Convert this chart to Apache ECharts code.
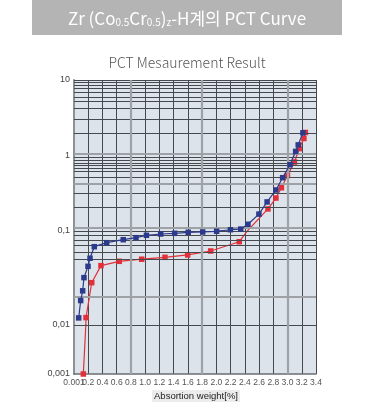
<!DOCTYPE html>
<html><head><meta charset="utf-8">
<script src="https://cdn.jsdelivr.net/npm/echarts@6/dist/echarts.min.js"></script>
<style>html,body{margin:0;padding:0;background:#fff}#c{width:374px;height:412px}</style>
</head><body><div id="c"></div>
<script>
// ---- data ----
const blueX = [0.066,0.094,0.122,0.140,0.197,0.225,0.285,0.459,0.692,0.871,1.018,1.218,1.414,1.605,1.808,2.004,2.198,2.343,2.444,2.598,2.713,2.837,2.931,3.034,3.114,3.150,3.216];
const blueY = [0.0119,0.0182,0.0231,0.0319,0.0421,0.0513,0.0681,0.0751,0.0808,0.0849,0.0900,0.0929,0.0945,0.0969,0.0976,0.0993,0.104,0.106,0.123,0.168,0.244,0.352,0.514,0.766,1.15,1.40,2.02];
const redX = [0.131,0.169,0.249,0.379,0.636,0.951,1.278,1.597,1.920,2.322,2.725,2.837,2.914,2.999,3.097,3.164,3.230,3.251];
const redY = [0.001,0.0120,0.0282,0.0428,0.0476,0.0501,0.0525,0.0556,0.0613,0.0769,0.197,0.275,0.377,0.550,0.832,1.25,1.70,2.04];
const xTickLabels = ['0.001','0.2','0.4','0.6','0.8','1.0','1.2','1.4','1.6','1.8','2.0','2.2','2.4','2.6','2.8','3.0','3.2','3.4'];
const yTickLabels = {'1':'10','0':'1','-1':'0,1','-2':'0,01','-3':'0,001'};
const decades = [[1,10],[0.1,1],[0.01,0.1],[0.001,0.01]];
// printed graph-paper rulings (values on the pressure scale)
const paperDark = [10,9.3,8.6,7.8,7.0,6.0,5.2,4.2,3.0,2.0,0.96,0.885,0.814,0.751,0.685,0.617,0.52,0.318,0.215,0.1,0.0945,0.0885,0.0822,0.0727,0.0628,0.052,0.0163,0.0155,0.0144,0.0133,0.012,0.00754,0.00494,0.00272];
const paperGray = [1.06,0.432,0.11,0.0177];
const paperGrayX = [0.8,1.8,3.0];

// ---- layout ----
const tops = [80,156,231,325];
const heights = [76,75,94,49];
const LEFT = 74, WIDTH = 242;
const DARK = '#45484d', GRAY = '#9ea2a7';
const BLUE = '#2c3a8c', RED = '#e2303a';
const narrow = '"Liberation Sans Narrow","Liberation Sans",Arial,sans-serif';
const xLabelStyle = {fontSize: 8.5, color: '#555', margin: 4, fontFamily: narrow, hideOverlap: false, interval: 0};

const chart = echarts.init(document.getElementById('c'), null, {renderer:'canvas'});
const grid = [], xAxis = [], yAxis = [], series = [];
decades.forEach((d, i) => {
  const lo = d[0], hi = d[1];
  grid.push({left: LEFT, top: tops[i], width: WIDTH, height: heights[i], show: true, backgroundColor: '#dce3ea', borderWidth: 0});
  xAxis.push({
    gridIndex: i, type: 'value', min: 0, max: 3.4, interval: 0.2,
    axisLine: {show: i === 3, lineStyle: {color: '#6a6e73', width: 1.5}},
    axisTick: {show: false},
    axisLabel: Object.assign({show: i === 3, showMinLabel: false, showMaxLabel: true,
      formatter: v => (Math.round(v / 0.2) === 0 ? '' : xTickLabels[Math.round(v / 0.2)])}, xLabelStyle),
    splitLine: {show: true, lineStyle: {color: DARK, width: 1}}
  });
  yAxis.push({
    gridIndex: i, type: 'log', logBase: 10, min: lo, max: hi, splitNumber: 1,
    axisLine: {show: true, lineStyle: {color: '#8d9196', width: 2}},
    axisTick: {show: false},
    splitLine: {show: false},
    axisLabel: {showMinLabel: i === 3, showMaxLabel: true, fontSize: 9, color: '#444', margin: 4, fontFamily: narrow,
      formatter: v => yTickLabels[String(Math.round(Math.log10(v)))]}
  });
  const inRange = v => v <= hi * 1.0001 && v >= lo * 0.9999 && !(i > 0 && Math.abs(v - hi) / hi < 1e-4);
  const ml = [];
  paperDark.filter(inRange).forEach(v => ml.push({yAxis: v, lineStyle: {color: DARK, width: 1, type: 'solid'}}));
  paperGray.filter(inRange).forEach(v => ml.push({yAxis: v, lineStyle: {color: GRAY, width: 2.2, type: 'solid'}}));
  paperGrayX.forEach(v => ml.push({xAxis: v, lineStyle: {color: GRAY, width: 2.2, type: 'solid'}}));
  series.push({
    type: 'line', xAxisIndex: i, yAxisIndex: i, data: [], silent: true, z: 1,
    markLine: {silent: true, symbol: 'none', label: {show: false}, animation: false, data: ml}
  });
  series.push({
    type: 'line', xAxisIndex: i, yAxisIndex: i, clip: true, z: 4, animation: false,
    data: redX.map((x, k) => [x, redY[k]]),
    symbol: 'rect', symbolSize: 5.5, showAllSymbol: true,
    lineStyle: {color: RED, width: 1.2}, itemStyle: {color: RED}
  });
  series.push({
    type: 'line', xAxisIndex: i, yAxisIndex: i, clip: true, z: 5, animation: false,
    data: blueX.map((x, k) => [x, blueY[k]]),
    symbol: 'rect', symbolSize: 5.5, showAllSymbol: true,
    lineStyle: {color: BLUE, width: 1.2}, itemStyle: {color: BLUE}
  });
});
// separate axis on the bottom grid that carries only the first ("0.001") tick label
xAxis.push({
  gridIndex: 3, type: 'value', min: 0, max: 3.4, interval: 0.2, position: 'bottom',
  axisLine: {show: false}, axisTick: {show: false}, splitLine: {show: false},
  axisLabel: Object.assign({show: true, showMinLabel: true, showMaxLabel: false,
    formatter: v => (Math.round(v / 0.2) === 0 ? xTickLabels[0] : '')}, xLabelStyle)
});

chart.setOption({
  animation: false,
  grid, xAxis, yAxis, series,
  graphic: [
    {type: 'rect', shape: {x: 32, y: 0, width: 310, height: 35}, style: {fill: '#b4b4b4'}, silent: true},
    {type: 'text', x: 187, y: 19, silent: true, style: {
      text: 'Zr (Co{s|0.5}Cr{s|0.5}){s|z}-H계의 PCT Curve',
      fill: '#fff', font: '17px "Noto Sans CJK KR", sans-serif', align: 'center', verticalAlign: 'middle',
      rich: {s: {fontSize: 10, fill: '#fff', fontFamily: '"Noto Sans CJK KR", sans-serif', verticalAlign: 'bottom'}}
    }},
    {type: 'text', x: 187, y: 63, silent: true, style: {
      text: 'PCT Mesaurement Result', fill: '#555', font: '300 14px "Noto Sans CJK KR", sans-serif',
      align: 'center', verticalAlign: 'middle'
    }},
    {type: 'text', x: 196, y: 396, silent: true, style: {
      text: 'Absortion weight[%]', fill: '#222', font: '9.5px ' + narrow,
      align: 'center', verticalAlign: 'middle', backgroundColor: '#ececec', padding: [1, 2]
    }}
  ]
});
</script></body></html>
